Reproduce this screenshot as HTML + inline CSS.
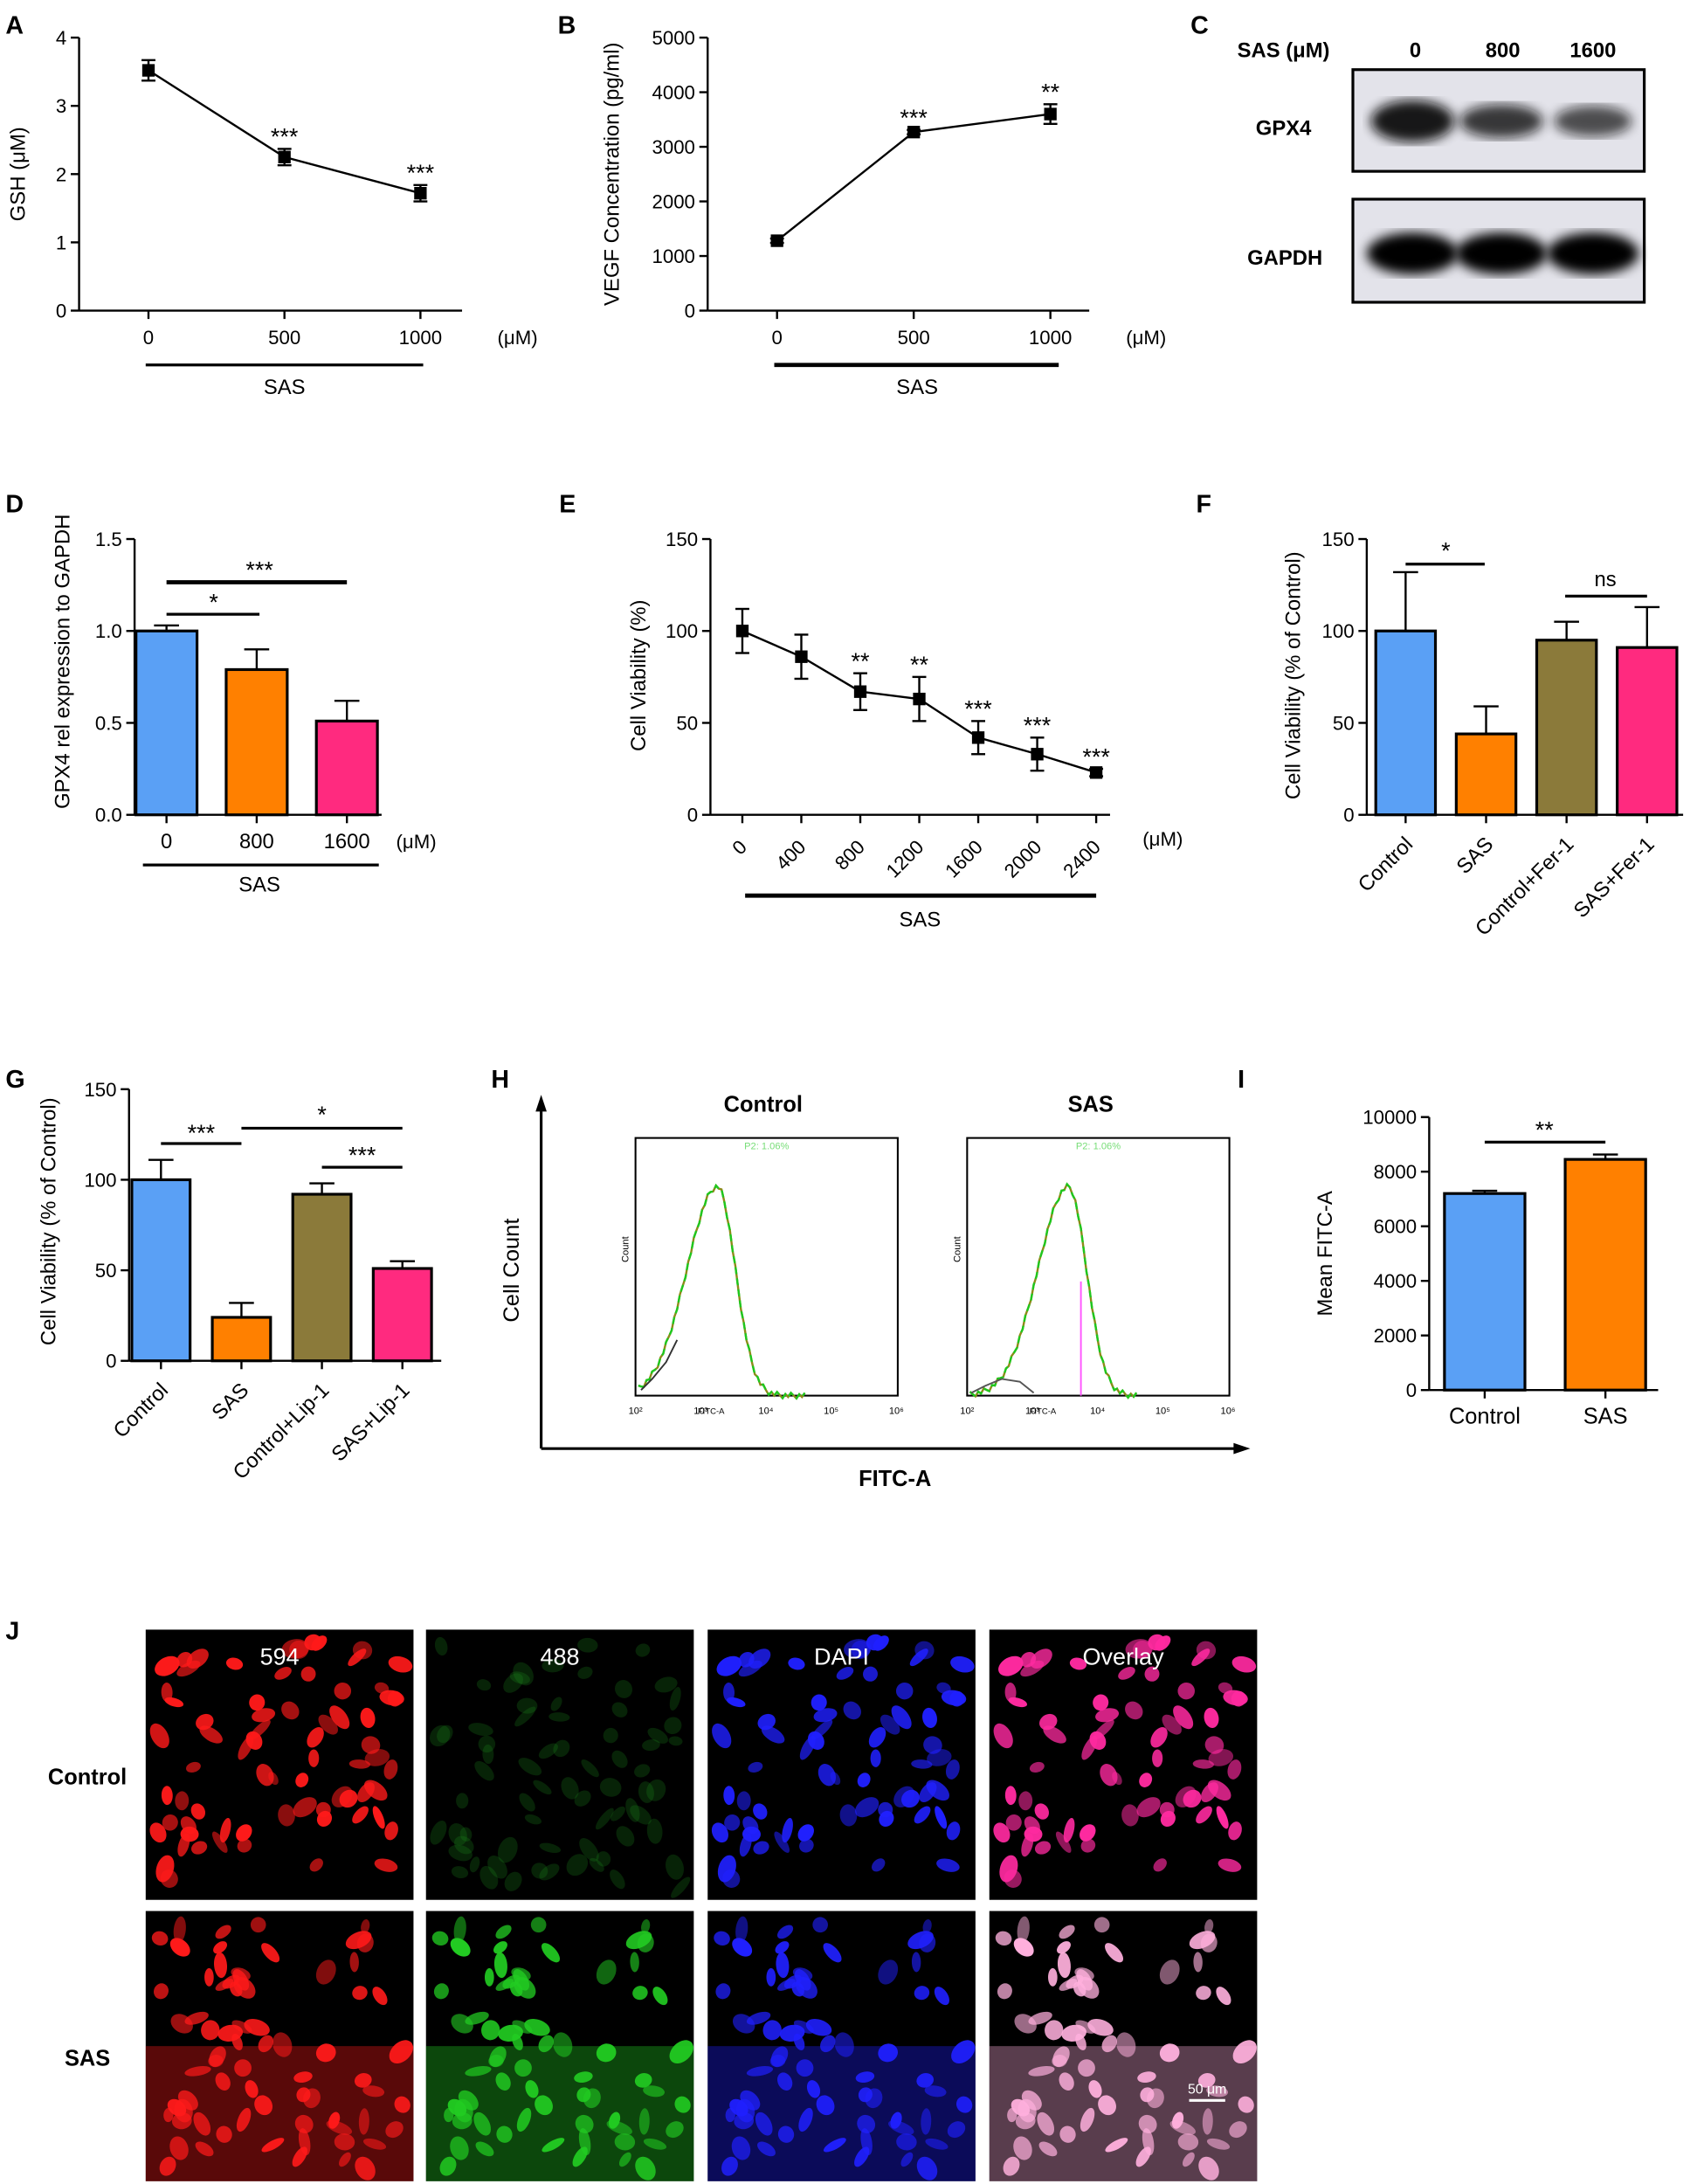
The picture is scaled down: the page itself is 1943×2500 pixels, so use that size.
<!DOCTYPE html>
<html><head><meta charset="utf-8"><style>
html,body{margin:0;padding:0;background:#fff}
svg{display:block;font-family:"Liberation Sans",Arial,sans-serif}
</style></head><body>
<svg id="fig" width="1943" height="2500" viewBox="0 0 1223 1568" preserveAspectRatio="none" xmlns="http://www.w3.org/2000/svg">
<rect width="1223" height="1568" fill="#fff"/>
<g font-weight="bold" font-size="18">
<text x="4" y="24">A</text>
<text x="402" y="24">B</text>
<text x="858" y="24">C</text>
<text x="4" y="368">D</text>
<text x="403" y="368">E</text>
<text x="862" y="368">F</text>
<text x="4" y="781">G</text>
<text x="354" y="781">H</text>
<text x="892" y="781">I</text>
<text x="4" y="1177">J</text>
</g>
<g id="root"></g>
</svg>
<script>
// ---- data ----
const gshDose=["0","500","1000"];
const gshVals=[3.52,2.25,1.72];
const gshErr=[0.15,0.12,0.12];
const gshStars=["","***","***"];
const vegfDose=["0","500","1000"];
const vegfVals=[1280,3270,3600];
const vegfErr=[40,40,180];
const vegfStars=["","***","**"];
const gpxCats=["0","800","1600"];
const gpxVals=[1.0,0.79,0.51];
const gpxErr=[0.03,0.11,0.11];
const viaDose=["0","400","800","1200","1600","2000","2400"];
const viaVals=[100,86,67,63,42,33,23];
const viaErr=[12,12,10,12,9,9,2];
const viaStars=["","","**","**","***","***","***"];
const ferCats=["Control","SAS","Control+Fer-1","SAS+Fer-1"];
const ferVals=[100,44,95,91];
const ferErr=[32,15,10,22];
const lipCats=["Control","SAS","Control+Lip-1","SAS+Lip-1"];
const lipVals=[100,24,92,51];
const lipErr=[11,8,6,4];
const fitcCats=["Control","SAS"];
const fitcVals=[7200,8450];
const fitcErr=[100,180];
const colors4=["#5aa0f5","#ff8000","#8b7a3a","#ff2a7f"];
const colors3=["#5aa0f5","#ff8000","#ff2a7f"];

const NS="http://www.w3.org/2000/svg";
const root=document.getElementById('root');
function el(tag,attrs,parent,txt){const e=document.createElementNS(NS,tag);for(const k in attrs)e.setAttribute(k,attrs[k]);if(txt!==undefined)e.textContent=txt;(parent||root).appendChild(e);return e;}
function lin(d0,d1,r0,r1){return v=>r0+(v-d0)/(d1-d0)*(r1-r0);}

function yAxis(x,y,ticks,fmt,name){
  const g=el('g',{});
  
  
  el('line',{x1:x,x2:x,y1:y(ticks[0]),y2:y(ticks[ticks.length-1]),stroke:'#000','stroke-width':1.5},g);
  ticks.forEach(t=>{el('line',{x1:x-6,x2:x,y1:y(t),y2:y(t),stroke:'#000','stroke-width':1.5},g);
    el('text',{x:x-9,y:y(t)+5,'text-anchor':'end','font-size':14},g,fmt(t));});
  return g;
}
function yTitle(x,cy,txt,name,fs){
  const t=el('text',{transform:`translate(${x},${cy}) rotate(-90)`,'text-anchor':'middle','font-size':fs||15},root,txt);
  
  
}
function label(x,y,txt,name,extra){
  const t=el('text',Object.assign({x:x,y:y,'text-anchor':'middle','font-size':15},extra||{}),root,txt);
  
  
  return t;
}
function hline(x1,x2,y,w,name){
  const l=el('line',{x1:x1,x2:x2,y1:y,y2:y,stroke:'#000','stroke-width':w});
  
  
}

function lineChart(o){
  const y=lin(o.ymin,o.ymax,o.y0,o.y1);
  yAxis(o.ax,y,o.ticks,o.fmt,o.name+'-y-axis');
  const xs=o.cats.map((c,i)=>o.x0+i*o.dx);
  el('line',{x1:o.ax,x2:o.xend,y1:o.y0,y2:o.y0,stroke:'#000','stroke-width':1.5});
  o.cats.forEach((c,i)=>{el('line',{x1:xs[i],x2:xs[i],y1:o.y0,y2:o.y0+6,stroke:'#000','stroke-width':1.5});
    if(o.rot){label(xs[i]+4,o.y0+24,c,o.name+'-x-tick',{transform:`rotate(-45 ${xs[i]+4} ${o.y0+24})`,'text-anchor':'end','font-size':14});}
    else label(xs[i],o.y0+24,c,o.name+'-x-tick',{'font-size':14});});
  const p=el('polyline',{points:o.vals.map((v,i)=>xs[i]+','+y(v)).join(' '),fill:'none',stroke:'#000','stroke-width':1.5});
  
  
  o.vals.forEach((v,i)=>{
    const g=el('g',{});
    
    
    const e=o.err[i];
    el('line',{x1:xs[i],x2:xs[i],y1:y(v-e),y2:y(v+e),stroke:'#000','stroke-width':1.5},g);
    el('line',{x1:xs[i]-5,x2:xs[i]+5,y1:y(v-e),y2:y(v-e),stroke:'#000','stroke-width':1.5},g);
    el('line',{x1:xs[i]-5,x2:xs[i]+5,y1:y(v+e),y2:y(v+e),stroke:'#000','stroke-width':1.5},g);
    el('rect',{x:xs[i]-4.5,y:y(v)-4.5,width:9,height:9,fill:'#000'},g);
    if(o.stars[i]) el('text',{x:xs[i],y:y(v+e)-3,'text-anchor':'middle','font-size':17},g,o.stars[i]);
  });
  return xs;
}
function barChart(o){
  const y=lin(o.ymin,o.ymax,o.y0,o.y1);
  const cols=o.colors||colors4;
  yAxis(o.ax,y,o.ticks,o.fmt,o.name+'-y-axis');
  const xs=o.cats.map((c,i)=>o.x0+i*o.dx);
  el('line',{x1:o.ax,x2:o.xend,y1:o.y0,y2:o.y0,stroke:'#000','stroke-width':1.5});
  o.vals.forEach((v,i)=>{
    const g=el('g',{});
    
    
    const e=o.err[i];
    el('line',{x1:xs[i],x2:xs[i],y1:y(v),y2:y(v+e),stroke:'#000','stroke-width':1.5},g);
    el('line',{x1:xs[i]-9,x2:xs[i]+9,y1:y(v+e),y2:y(v+e),stroke:'#000','stroke-width':1.5},g);
    el('rect',{x:xs[i]-o.bw/2,y:y(v),width:o.bw,height:o.y0-y(v),fill:cols[i],stroke:'#000','stroke-width':2},g);
  });
  o.cats.forEach((c,i)=>{el('line',{x1:xs[i],x2:xs[i],y1:o.y0,y2:o.y0+6,stroke:'#000','stroke-width':1.5});
    if(o.rot) label(xs[i]+6,o.y0+22,c,o.name+'-x-tick',{transform:`rotate(-45 ${xs[i]+6} ${o.y0+22})`,'text-anchor':'end'});
    else label(xs[i],o.y0+24,c,o.name+'-x-tick',{'font-size':o.xfs||15});});
  return xs;
}
const f0=t=>String(t), f1=t=>t.toFixed(1);

// A
lineChart({name:'gsh',ax:57,y0:223,y1:27,ymin:0,ymax:4,ticks:[0,1,2,3,4],fmt:f0,cats:gshDose,vals:gshVals,err:gshErr,stars:gshStars,x0:107,dx:98,xend:333});
yTitle(18,125,'GSH (μM)','gsh-y-title');
label(373,247,'(μM)','gsh-unit',{'font-size':14});
hline(105,305,262,2,'gsh-sas-bar');
label(205,283,'SAS','gsh-sas-label');
// B
lineChart({name:'vegf',ax:510,y0:223,y1:27,ymin:0,ymax:5000,ticks:[0,1000,2000,3000,4000,5000],fmt:f0,cats:vegfDose,vals:vegfVals,err:vegfErr,stars:vegfStars,x0:560,dx:98.5,xend:785});
yTitle(446,125,'VEGF Concentration (pg/ml)','vegf-y-title');
label(826,247,'(μM)','vegf-unit',{'font-size':14});
hline(558,763,262,3,'vegf-sas-bar');
label(661,283,'SAS','vegf-sas-label');
// C western blot
label(925,41,'SAS (μM)','blot-sas-label',{'font-weight':'bold','font-size':15});
['0','800','1600'].forEach((t,i)=>label([1020,1083,1148][i],41,t,'blot-lane-label',{'font-weight':'bold'}));
label(925,97,'GPX4','blot-gpx4-label',{'font-weight':'bold'});
label(926,190,'GAPDH','blot-gapdh-label',{'font-weight':'bold'});
(function(){
  const defs=el('defs',{});
  const f=el('filter',{id:'blur'},defs);el('feGaussianBlur',{stdDeviation:4},f);
  const b1=el('g',{});
  
  
  el('rect',{x:975,y:50,width:210,height:73,fill:'#e3e3ea',stroke:'#000','stroke-width':2},b1);
  [[1018,20,15,0.95],[1082,20,12,0.8],[1148,18,11,0.7]].forEach(b=>el('ellipse',{cx:b[0],cy:87,rx:b[1]+10,ry:b[2],fill:'#111',opacity:b[3],filter:'url(#blur)'},b1));
  const b2=el('g',{});
  
  
  el('rect',{x:975,y:143,width:210,height:74,fill:'#e3e3ea',stroke:'#000','stroke-width':2},b2);
  [1018,1082,1148].forEach(x=>el('ellipse',{cx:x,cy:182,rx:33,ry:15,fill:'#050505',filter:'url(#blur)'},b2));
})();
// D
barChart({name:'gpx4',ax:97,y0:585,y1:387,ymin:0,ymax:1.5,ticks:[0,0.5,1,1.5],fmt:f1,cats:gpxCats,vals:gpxVals,err:gpxErr,x0:120,dx:65,bw:44,xend:275,colors:colors3});
yTitle(50,475,'GPX4 rel expression to GAPDH','gpx4-y-title');
label(300,609,'(μM)','gpx4-unit',{'font-size':14});
hline(103,273,621,2,'gpx4-sas-bar');
label(187,640,'SAS','gpx4-sas-label');
hline(120,187,441,2,'gpx4-sig-800');label(154,438,'*','gpx4-star-800',{'font-size':17});
hline(120,250,418,3,'gpx4-sig-1600');label(187,415,'***','gpx4-star-1600',{'font-size':17});
// E
lineChart({name:'viability',ax:512,y0:585,y1:387,ymin:0,ymax:150,ticks:[0,50,100,150],fmt:f0,cats:viaDose,vals:viaVals,err:viaErr,stars:viaStars,x0:535,dx:42.5,xend:800,rot:true});
yTitle(465,485,'Cell Viability (%)','viability-y-title');
label(838,607,'(μM)','viability-unit',{'font-size':14});
hline(537,790,643,3,'viability-sas-bar');
label(663,665,'SAS','viability-sas-label');
// F
barChart({name:'fer',ax:985,y0:585,y1:387,ymin:0,ymax:150,ticks:[0,50,100,150],fmt:f0,cats:ferCats,vals:ferVals,err:ferErr,x0:1013,dx:58,bw:43,xend:1213,rot:true});
yTitle(937,485,'Cell Viability (% of Control)','fer-y-title');
hline(1013,1070,405,2,'fer-sig-sas');label(1042,401,'*','fer-star',{'font-size':17});
hline(1128,1187,428,2,'fer-sig-ns');label(1157,421,'ns','fer-ns');
// G
barChart({name:'lip',ax:93,y0:977,y1:782,ymin:0,ymax:150,ticks:[0,50,100,150],fmt:f0,cats:lipCats,vals:lipVals,err:lipErr,x0:116,dx:58,bw:42,xend:318,rot:true});
yTitle(40,877,'Cell Viability (% of Control)','lip-y-title');
hline(116,174,821,2,'lip-sig-1');label(145,819,'***','lip-star-1',{'font-size':17});
hline(174,290,810,2,'lip-sig-2');label(232,806,'*','lip-star-2',{'font-size':17});
hline(232,290,838,2,'lip-sig-3');label(261,835,'***','lip-star-3',{'font-size':17});
// H flow
(function(){
  const g=el('g',{});
  
  
  el('line',{x1:390,y1:1040,x2:390,y2:795,stroke:'#000','stroke-width':2},g);
  el('polygon',{points:'390,786 386,798 394,798',fill:'#000'},g);
  el('line',{x1:390,y1:1040,x2:892,y2:1040,stroke:'#000','stroke-width':2},g);
  el('polygon',{points:'901,1040 889,1036 889,1044',fill:'#000'},g);
  yTitle(374,912,'Cell Count','flow-y-title',16);
  label(645,1067,'FITC-A','flow-x-title',{'font-weight':'bold','font-size':16});
  label(550,798,'Control','flow-control-title',{'font-weight':'bold','font-size':16});
  label(786,798,'SAS','flow-sas-title',{'font-weight':'bold','font-size':16});
  [[458,517,0],[697,770,1]].forEach((p,k)=>{
    const h=el('g',{});
    
    
    const x0=p[0],w=189,top=817,bot=1002;
    el('rect',{x:x0,y:top,width:w,height:bot-top,fill:'none',stroke:'#000','stroke-width':1.3},h);
    const pk=p[1],pts=[];
    for(let i=0;i<=60;i++){const x=x0+2+i*2;const d=(x-pk)/ (x<pk?22:13);pts.push(x+','+(bot-150*Math.exp(-d*d/2)+((i*7)%5)-2));}
    el('polyline',{points:pts.join(' '),fill:'none',stroke:'#8b8b1a','stroke-width':1.5},h);
    el('polyline',{points:pts.join(' '),fill:'none',stroke:'#1ec81e','stroke-width':1.5,'stroke-dasharray':'5 3'},h);
    if(k){
      el('polyline',{points:'700,1000 710,995 722,990 735,992 745,1000',fill:'none',stroke:'#555','stroke-width':1.2},h);
      el('line',{x1:779,x2:779,y1:bot,y2:920,stroke:'#ff55ff','stroke-width':1.2},h);
    } else {
      el('polyline',{points:'462,998 470,990 480,978 488,962',fill:'none',stroke:'#333','stroke-width':1.2},h);
    }
    el('text',{x:x0+w/2,y:top+8,'font-size':7,fill:'#7d7','text-anchor':'middle'},h,'P2: 1.06%');
    el('text',{transform:`translate(${x0-5},${top+80}) rotate(-90)`,'font-size':7,'text-anchor':'middle'},h,'Count');
    ['10²','10³','10⁴','10⁵','10⁶'].forEach((t,i)=>el('text',{x:x0+i*47,y:bot+13,'font-size':7,'text-anchor':'middle'},h,t));
    el('text',{x:x0+w/2-40,y:bot+13,'font-size':6,'text-anchor':'middle'},h,'FITC-A');
  });
})();
// I
barChart({name:'fitc',ax:1030,y0:998,y1:802,ymin:0,ymax:10000,ticks:[0,2000,4000,6000,8000,10000],fmt:f0,cats:fitcCats,vals:fitcVals,err:fitcErr,x0:1070,dx:87,bw:58,xend:1195,xfs:16});
yTitle(960,900,'Mean FITC-A','fitc-y-title');
hline(1070,1157,820,2,'fitc-sig');label(1113,817,'**','fitc-star',{'font-size':17});
// J images
(function(){
  const cols=[105,307,510,713],rows=[1170,1372],W=193,H=194;
  const names=['594','488','DAPI','Overlay'];
  const cel=[['#ff1a1a','#1a8a1a','#2020ff','#ff2aa0'],['#ff1a1a','#22cc22','#2020ff','#ffb0dd']];
  label(63,1281,'Control','j-row-control',{'font-weight':'bold','font-size':16});
  label(63,1483,'SAS','j-row-sas',{'font-weight':'bold','font-size':16});
  let s=7;const rnd=()=>{s=(s*9301+49297)%233280;return s/233280;};
  rows.forEach((ry,r)=>cols.forEach((cx,c)=>{
    const g=el('g',{});
    
    
    el('rect',{x:cx,y:ry,width:W,height:H,fill:'#000'},g);
    if(r) el('rect',{x:cx,y:ry+H*0.5,width:W,height:H*0.5,fill:cel[r][c],opacity:0.35},g);
    s=11+r*5;
    for(let i=0;i<70;i++){const x=cx+8+rnd()*(W-16),y=ry+8+rnd()*(H-16);
      const op=(r===0&&c===1)?0.25:(0.5+rnd()*0.5);
      el('ellipse',{cx:x,cy:y,rx:5+rnd()*5,ry:3+rnd()*4,fill:cel[r][c],opacity:op,transform:`rotate(${rnd()*180} ${x} ${y})`},g);}
    if(r===0) el('text',{x:cx+W/2,y:ry+25,'text-anchor':'middle','font-size':17,fill:'#fff'},g,names[c]);
  }));
  label(870,1503,'50 μm','scale-bar-label',{fill:'#fff','font-size':10});
  hline(857,883,1508,2,'scale-bar');
  root.lastChild.setAttribute('stroke','#fff');
})();
</script>
</body></html>
